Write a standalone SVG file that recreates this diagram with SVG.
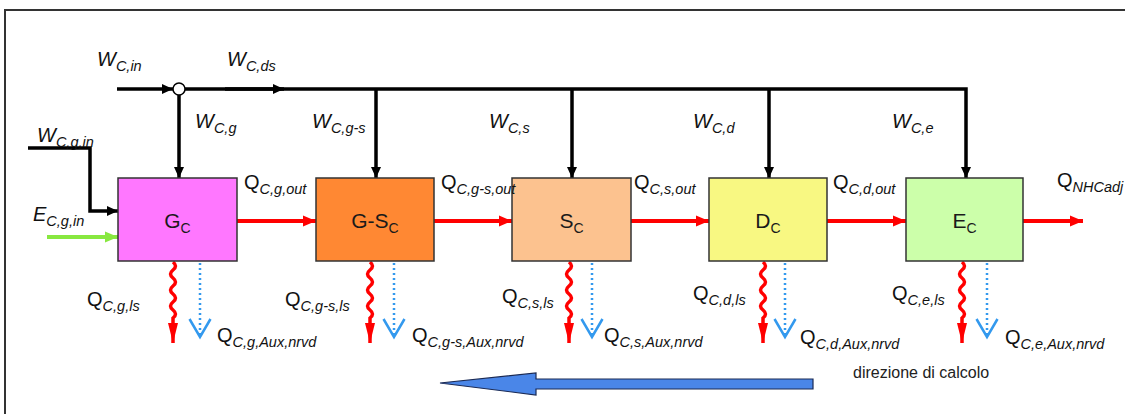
<svg xmlns="http://www.w3.org/2000/svg" width="1125" height="414" viewBox="0 0 1125 414">
<style>
.lbl{font-family:"Liberation Sans",Arial,sans-serif;font-size:20px;fill:#111}
.it{font-style:italic}
.sub{font-size:14.5px;font-style:italic}
.box{stroke:#333;stroke-width:1.5}
.bl{font-family:"Liberation Sans",Arial,sans-serif;font-size:21px;fill:#1a1a1a;text-anchor:middle}
.bsub{font-size:14px}
.blk{stroke:#000;stroke-width:3.5;fill:none}
.red{stroke:#ff0000;stroke-width:4;fill:none}
.wave{stroke:#ff0000;stroke-width:3.5;fill:none}
.dot{stroke:#3399ee;stroke-width:2.5;stroke-dasharray:2 3;fill:none}
</style>
<defs>
<marker id="ab" markerUnits="userSpaceOnUse" markerWidth="12" markerHeight="12" refX="11" refY="6" orient="auto"><path d="M0,1 L11,6 L0,11 z" fill="#000"/></marker>
<marker id="ar" markerUnits="userSpaceOnUse" markerWidth="14" markerHeight="12" refX="13" refY="6" orient="auto"><path d="M0,0.5 L13,6 L0,11.5 z" fill="#ff0000"/></marker>
<marker id="ag" markerUnits="userSpaceOnUse" markerWidth="14" markerHeight="12" refX="13" refY="6" orient="auto"><path d="M0,0.5 L13,6 L0,11.5 z" fill="#88e840"/></marker>
<marker id="aw" markerUnits="userSpaceOnUse" markerWidth="20" markerHeight="12" refX="20" refY="6" orient="auto"><path d="M0,1 L20,6 L0,11 z" fill="#ff0000"/></marker>
<marker id="av" markerUnits="userSpaceOnUse" markerWidth="24" markerHeight="26" refX="20" refY="12" orient="auto"><path d="M2,1.5 L20,12 L2,22.5" fill="none" stroke="#3399ee" stroke-width="2.5"/></marker>
</defs>
<rect width="1125" height="414" fill="#fff"/>
<path d="M5,414 L5,10 L1125,10" fill="none" stroke="#333" stroke-width="2"/>

<g id="connectors">
<path class="blk" d="M117,89 L173,89" marker-end="url(#ab)"/>
<path class="blk" d="M185,89 L966,89 L966,178" stroke-width="3" marker-end="url(#ab)"/>
<path class="blk" d="M225,89 L284,89" stroke-width="4.5" marker-end="url(#ab)"/>
<path class="blk" d="M179,95 L179,178" marker-end="url(#ab)"/>
<path class="blk" d="M376,89 L376,178" marker-end="url(#ab)"/>
<path class="blk" d="M572,89 L572,178" marker-end="url(#ab)"/>
<path class="blk" d="M769,89 L769,178" marker-end="url(#ab)"/>
<path class="blk" d="M28,148 L90,148 L90,211 L118,211" stroke-width="4" marker-end="url(#ab)"/>
<path d="M47,237 L118,237" stroke="#88e840" stroke-width="4" marker-end="url(#ag)"/>
<path class="red" d="M237,221 L316,221" marker-end="url(#ar)"/>
<path class="red" d="M434,221 L512,221" marker-end="url(#ar)"/>
<path class="red" d="M631,221 L709,221" marker-end="url(#ar)"/>
<path class="red" d="M827,221 L906,221" marker-end="url(#ar)"/>
<path class="red" d="M1023,221 L1083,221" marker-end="url(#ar)"/>
<path class="wave" d="M173,262 q5,4 0,8 q-5,4 0,8 q5,4 0,8 q-5,4 0,8 q5,4 0,8 q-5,4 0,8 q5,4 0,8 L173,343" marker-end="url(#aw)"/>
<path class="wave" d="M370,262 q5,4 0,8 q-5,4 0,8 q5,4 0,8 q-5,4 0,8 q5,4 0,8 q-5,4 0,8 q5,4 0,8 L370,343" marker-end="url(#aw)"/>
<path class="wave" d="M569,262 q5,4 0,8 q-5,4 0,8 q5,4 0,8 q-5,4 0,8 q5,4 0,8 q-5,4 0,8 q5,4 0,8 L569,343" marker-end="url(#aw)"/>
<path class="wave" d="M763,262 q5,4 0,8 q-5,4 0,8 q5,4 0,8 q-5,4 0,8 q5,4 0,8 q-5,4 0,8 q5,4 0,8 L763,343" marker-end="url(#aw)"/>
<path class="wave" d="M962,262 q5,4 0,8 q-5,4 0,8 q5,4 0,8 q-5,4 0,8 q5,4 0,8 q-5,4 0,8 q5,4 0,8 L962,343" marker-end="url(#aw)"/>
<path class="dot" d="M200,263 L200,337" marker-end="url(#av)"/>
<path class="dot" d="M394,263 L394,337" marker-end="url(#av)"/>
<path class="dot" d="M592,263 L592,337" marker-end="url(#av)"/>
<path class="dot" d="M785,263 L785,337" marker-end="url(#av)"/>
<path class="dot" d="M987,263 L987,337" marker-end="url(#av)"/>
</g>

<g id="junction"><circle cx="179" cy="89" r="6" fill="#fff" stroke="#000" stroke-width="1.5"/></g>

<g id="node-G"><rect class="box" x="118" y="178" width="119" height="83" fill="#ff77ff"/><text class="bl" x="177.5" y="228">G<tspan class="bsub" dy="5">C</tspan></text></g>
<g id="node-GS"><rect class="box" x="316" y="178" width="118" height="83" fill="#ff8833"/><text class="bl" x="375" y="228">G-S<tspan class="bsub" dy="5">C</tspan></text></g>
<g id="node-S"><rect class="box" x="512" y="178" width="119" height="83" fill="#fcc28f"/><text class="bl" x="571.5" y="228">S<tspan class="bsub" dy="5">C</tspan></text></g>
<g id="node-D"><rect class="box" x="709" y="178" width="118" height="83" fill="#f8f882"/><text class="bl" x="768" y="228">D<tspan class="bsub" dy="5">C</tspan></text></g>
<g id="node-E"><rect class="box" x="906" y="178" width="117" height="83" fill="#ccffaa"/><text class="bl" x="964.5" y="228">E<tspan class="bsub" dy="5">C</tspan></text></g>

<g id="labels">
<text class="lbl it" x="97" y="66">W<tspan class="sub" dy="5">C,in</tspan></text>
<text class="lbl it" x="227" y="66">W<tspan class="sub" dy="5">C,ds</tspan></text>
<text class="lbl it" x="195" y="128">W<tspan class="sub" dy="5">C,g</tspan></text>
<text class="lbl it" x="37" y="142">W<tspan class="sub" dy="5">C,g,in</tspan></text>
<text class="lbl it" x="312" y="128">W<tspan class="sub" dy="5">C,g-s</tspan></text>
<text class="lbl it" x="489" y="128">W<tspan class="sub" dy="5">C,s</tspan></text>
<text class="lbl it" x="693" y="128">W<tspan class="sub" dy="5">C,d</tspan></text>
<text class="lbl it" x="892" y="128">W<tspan class="sub" dy="5">C,e</tspan></text>
<text class="lbl it" x="33" y="221">E<tspan class="sub" dy="5">C,g,in</tspan></text>
<text class="lbl" x="244" y="189">Q<tspan class="sub" dy="5">C,g,out</tspan></text>
<text class="lbl" x="441" y="189">Q<tspan class="sub" dy="5">C,g-s,out</tspan></text>
<text class="lbl" x="634" y="189">Q<tspan class="sub" dy="5">C,s,out</tspan></text>
<text class="lbl" x="833" y="189">Q<tspan class="sub" dy="5">C,d,out</tspan></text>
<text class="lbl" x="1057" y="187">Q<tspan class="sub" dy="5">NHCadj</tspan></text>
<text class="lbl" x="87" y="306">Q<tspan class="sub" dy="5">C,g,ls</tspan></text>
<text class="lbl" x="285" y="306">Q<tspan class="sub" dy="5">C,g-s,ls</tspan></text>
<text class="lbl" x="502" y="303">Q<tspan class="sub" dy="5">C,s,ls</tspan></text>
<text class="lbl" x="693" y="300">Q<tspan class="sub" dy="5">C,d,ls</tspan></text>
<text class="lbl" x="892" y="300">Q<tspan class="sub" dy="5">C,e,ls</tspan></text>
<text class="lbl" x="217" y="342">Q<tspan class="sub" dy="5">C,g,Aux,nrvd</tspan></text>
<text class="lbl" x="412" y="342">Q<tspan class="sub" dy="5">C,g-s,Aux,nrvd</tspan></text>
<text class="lbl" x="604" y="342">Q<tspan class="sub" dy="5">C,s,Aux,nrvd</tspan></text>
<text class="lbl" x="800" y="344">Q<tspan class="sub" dy="5">C,d,Aux,nrvd</tspan></text>
<text class="lbl" x="1005" y="344">Q<tspan class="sub" dy="5">C,e,Aux,nrvd</tspan></text>
</g>

<g id="direction">
<path d="M440,383 L536,373 L536,379 L813,379 L813,389 L536,389 L536,395 z" fill="#4a86e8" stroke="#1a2a55" stroke-width="1.2"/>
<text x="853" y="378" font-family="Liberation Sans, Arial, sans-serif" font-size="16" fill="#222">direzione di calcolo</text>
</g>
</svg>
